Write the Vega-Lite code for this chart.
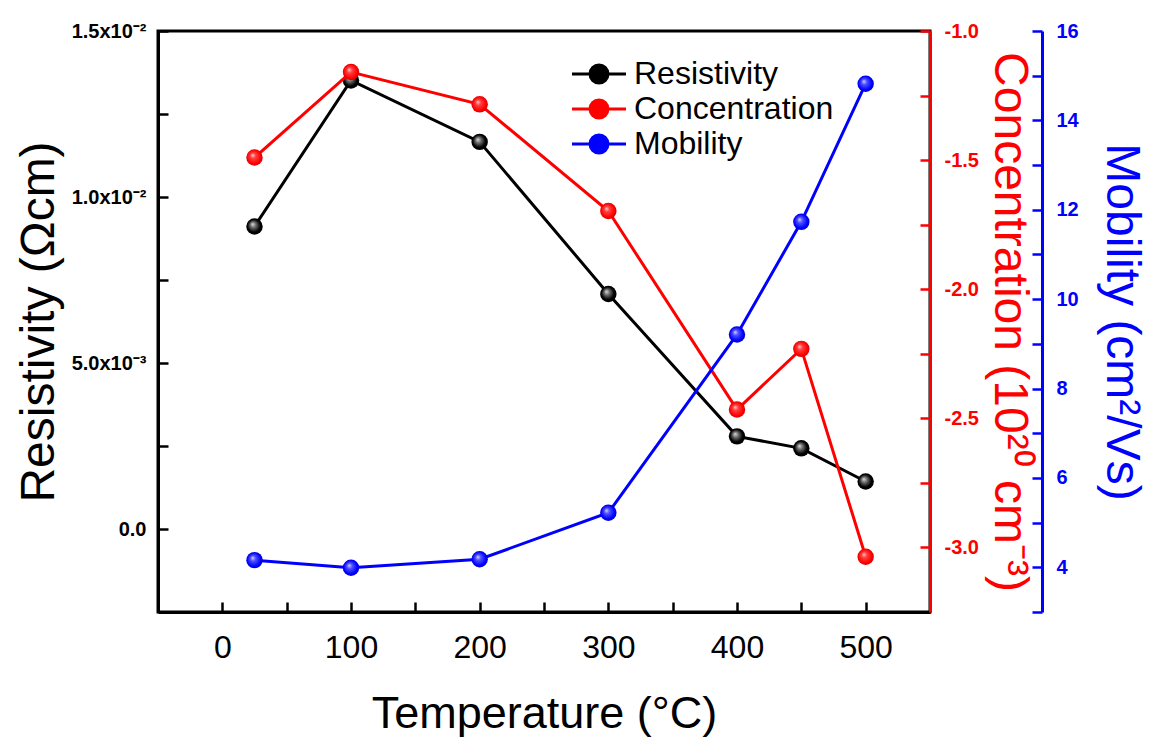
{
  "$schema": "https://vega.github.io/schema/vega-lite/v6.json",
  "width": 772,
  "height": 581,
  "autosize": {"type": "none"},
  "padding": {"left": 158, "top": 31, "right": 230, "bottom": 137},
  "background": "white",
  "config": {
    "view": {"stroke": "black", "strokeWidth": 3},
    "font": "Liberation Sans"
  },
  "data": {
    "values": [
      {"series": "Resistivity", "temp": 25, "value": 0.00911},
      {"series": "Resistivity", "temp": 100, "value": 0.01351},
      {"series": "Resistivity", "temp": 200, "value": 0.01166},
      {"series": "Resistivity", "temp": 300, "value": 0.00708},
      {"series": "Resistivity", "temp": 400, "value": 0.00279},
      {"series": "Resistivity", "temp": 450, "value": 0.00243},
      {"series": "Resistivity", "temp": 500, "value": 0.00143},
      {"series": "Concentration", "temp": 25, "value": -1.49},
      {"series": "Concentration", "temp": 100, "value": -1.159},
      {"series": "Concentration", "temp": 200, "value": -1.284},
      {"series": "Concentration", "temp": 300, "value": -1.697},
      {"series": "Concentration", "temp": 400, "value": -2.466},
      {"series": "Concentration", "temp": 450, "value": -2.231},
      {"series": "Concentration", "temp": 500, "value": -3.036},
      {"series": "Mobility", "temp": 25, "value": 4.16},
      {"series": "Mobility", "temp": 100, "value": 3.99},
      {"series": "Mobility", "temp": 200, "value": 4.18},
      {"series": "Mobility", "temp": 300, "value": 5.22},
      {"series": "Mobility", "temp": 400, "value": 9.21},
      {"series": "Mobility", "temp": 450, "value": 11.73},
      {"series": "Mobility", "temp": 500, "value": 14.82}
    ]
  },
  "layer": [
    {
      "transform": [{"filter": "datum.series === 'Resistivity'"}],
      "encoding": {
        "x": {
          "field": "temp",
          "type": "quantitative",
          "scale": {"domain": [-50, 550], "nice": false, "zero": false},
          "axis": {
            "values": [0, 50, 100, 150, 200, 250, 300, 350, 400, 450, 500],
            "labelExpr": "datum.value % 100 === 0 ? datum.label : ''",
            "title": "Temperature (°C)",
            "titleFontSize": 45,
            "titleFontWeight": "normal",
            "titleColor": "black",
            "titlePadding": 28,
            "labelFontSize": 32,
            "labelColor": "black",
            "labelPadding": 30,
            "tickSize": -10,
            "tickWidth": 2.5,
            "tickColor": "black",
            "domainColor": "black",
            "domainWidth": 3,
            "grid": false
          }
        },
        "y": {
          "field": "value",
          "type": "quantitative",
          "scale": {"domain": [-0.0025, 0.015], "nice": false, "zero": false},
          "axis": {
            "orient": "left",
            "values": [0, 0.0025, 0.005, 0.0075, 0.01, 0.0125, 0.015],
            "labelExpr": "datum.value > 0.0149 ? '1.5x10⁻²' : (datum.value > 0.0099 && datum.value < 0.0101) ? '1.0x10⁻²' : (datum.value > 0.0049 && datum.value < 0.0051) ? '5.0x10⁻³' : datum.value === 0 ? '0.0' : ''",
            "title": "Resistivity (Ωcm)",
            "titleFontSize": 48,
            "titleFontWeight": "normal",
            "titleColor": "black",
            "titlePadding": 8,
            "labelFontSize": 20,
            "labelFontWeight": "bold",
            "labelColor": "black",
            "labelPadding": 22,
            "tickSize": -10,
            "tickWidth": 2.5,
            "tickColor": "black",
            "domainColor": "black",
            "domainWidth": 3,
            "grid": false
          }
        }
      },
      "layer": [
        {
          "mark": {"type": "line", "strokeWidth": 3},
          "encoding": {
            "color": {
              "field": "series",
              "type": "nominal",
              "scale": {"domain": ["Resistivity", "Concentration", "Mobility"], "range": ["#000000", "#ff0000", "#0000ff"]},
              "legend": {
                "orient": "none",
                "legendX": 425,
                "legendY": 27,
                "title": null,
                "padding": 0,
                "symbolType": "M-3,0H3M1,0A1,1 0 1,1 -1,0A1,1 0 1,1 1,0Z",
                "symbolSize": 324,
                "symbolStrokeWidth": 3,
                "labelFontSize": 32,
                "labelColor": "black",
                "labelOffset": 19,
                "labelLimit": 400,
                "rowPadding": 3,
                "encode": {
                  "symbols": {
                    "update": {
                      "fill": {"scale": "color", "field": "value"},
                      "stroke": {"scale": "color", "field": "value"},
                      "strokeWidth": {"value": 3},
                      "opacity": {"value": 1}
                    }
                  }
                }
              }
            }
          }
        },
        {
          "mark": {
            "type": "point",
            "filled": true,
            "size": 270,
            "opacity": 1,
            "fill": {
              "gradient": "radial", "x1": 0.38, "y1": 0.35, "r1": 0, "x2": 0.5, "y2": 0.5, "r2": 0.55,
              "stops": [
                {"offset": 0, "color": "#e0e0e0"},
                {"offset": 0.3, "color": "#707070"},
                {"offset": 0.7, "color": "#000000"},
                {"offset": 1, "color": "#000000"}
              ]
            }
          }
        }
      ]
    },
    {
      "transform": [{"filter": "datum.series === 'Concentration'"}],
      "encoding": {
        "x": {"field": "temp", "type": "quantitative"},
        "y": {
          "field": "value",
          "type": "quantitative",
          "scale": {"domain": [-3.25, -1.0], "nice": false, "zero": false},
          "axis": {
            "orient": "right",
            "values": [-3.0, -2.75, -2.5, -2.25, -2.0, -1.75, -1.5, -1.25, -1.0],
            "labelExpr": "abs(datum.value * 2 - round(datum.value * 2)) < 0.01 ? ((datum.value < 0 ? '-' : '') + format(abs(datum.value), '.1f')) : ''",
            "title": "Concentration (10²⁰ cm⁻³)",
            "titleFontSize": 48,
            "titleFontWeight": "normal",
            "titleColor": "#ff0000",
            "titlePadding": 6,
            "labelFontSize": 20,
            "labelFontWeight": "bold",
            "labelColor": "#ff0000",
            "labelPadding": 24,
            "tickSize": -10,
            "tickWidth": 2.5,
            "tickColor": "#ff0000",
            "domainColor": "#ff0000",
            "domainWidth": 3,
            "grid": false
          }
        }
      },
      "layer": [
        {
          "mark": {"type": "line", "strokeWidth": 3},
          "encoding": {"color": {"field": "series", "type": "nominal"}}
        },
        {
          "mark": {
            "type": "point",
            "filled": true,
            "size": 270,
            "opacity": 1,
            "fill": {
              "gradient": "radial", "x1": 0.38, "y1": 0.35, "r1": 0, "x2": 0.5, "y2": 0.5, "r2": 0.55,
              "stops": [
                {"offset": 0, "color": "#ffd0d0"},
                {"offset": 0.3, "color": "#ff4040"},
                {"offset": 0.75, "color": "#ff0000"},
                {"offset": 1, "color": "#c80000"}
              ]
            }
          }
        }
      ]
    },
    {
      "transform": [{"filter": "datum.series === 'Mobility'"}],
      "encoding": {
        "x": {"field": "temp", "type": "quantitative"},
        "y": {
          "field": "value",
          "type": "quantitative",
          "scale": {"domain": [3, 16], "nice": false, "zero": false},
          "axis": {
            "orient": "right",
            "offset": 112,
            "values": [3, 4, 5, 6, 7, 8, 9, 10, 11, 12, 13, 14, 15, 16],
            "labelExpr": "datum.value % 2 === 0 ? datum.label : ''",
            "title": "Mobility (cm²/Vs)",
            "titleFontSize": 48,
            "titleFontWeight": "normal",
            "titleColor": "#0000ff",
            "titlePadding": 18,
            "labelFontSize": 20,
            "labelFontWeight": "bold",
            "labelColor": "#0000ff",
            "labelPadding": 24,
            "tickSize": -10,
            "tickWidth": 2.5,
            "tickColor": "#0000ff",
            "domainColor": "#0000ff",
            "domainWidth": 3,
            "grid": false
          }
        }
      },
      "layer": [
        {
          "mark": {"type": "line", "strokeWidth": 3},
          "encoding": {"color": {"field": "series", "type": "nominal"}}
        },
        {
          "mark": {
            "type": "point",
            "filled": true,
            "size": 270,
            "opacity": 1,
            "fill": {
              "gradient": "radial", "x1": 0.38, "y1": 0.35, "r1": 0, "x2": 0.5, "y2": 0.5, "r2": 0.55,
              "stops": [
                {"offset": 0, "color": "#d8d8ff"},
                {"offset": 0.3, "color": "#5050ff"},
                {"offset": 0.75, "color": "#0000ff"},
                {"offset": 1, "color": "#0000c0"}
              ]
            }
          }
        }
      ]
    }
  ],
  "resolve": {"scale": {"y": "independent"}}
}
